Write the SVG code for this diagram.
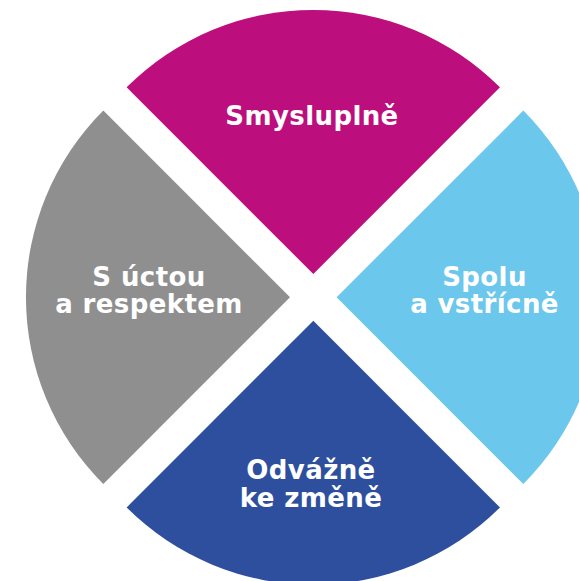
<svg xmlns="http://www.w3.org/2000/svg" width="579" height="581" viewBox="0 0 579 581">
<style>
.lbl{font-family:"DejaVu Sans","Liberation Sans",sans-serif;font-weight:bold;font-size:26px;letter-spacing:0.4px;fill:#ffffff;text-anchor:middle}
</style>
<rect width="579" height="581" fill="#ffffff"/>
<g id="smysluplne">
<path d="M313.3,274 L126.6,87.3 A264,264 0 0 1 500,87.3 Z" fill="#BC0E7C"/>
<text class="lbl" x="312" y="124.5">Smysluplně</text>
</g>
<g id="s-uctou">
<path d="M290,297.3 L103.3,484 A264,264 0 0 1 103.3,110.6 Z" fill="#8F8F8F"/>
<text class="lbl" x="149" y="285.5">S úctou</text>
<text class="lbl" x="149" y="313.3">a respektem</text>
</g>
<g id="spolu">
<path d="M336.6,297.3 L523.3,110.6 A264,264 0 0 1 523.3,484 Z" fill="#6BC7EB"/>
<text class="lbl" x="484.5" y="285.5">Spolu</text>
<text class="lbl" x="484.5" y="313.3">a vstřícně</text>
</g>
<g id="odvazne">
<path d="M313.3,320.7 L500,507.4 A264,264 0 0 1 126.6,507.4 Z" fill="#2E4F9E"/>
<text class="lbl" x="311" y="479.3">Odvážně</text>
<text class="lbl" x="311" y="506.7">ke změně</text>
</g>
<g id="connectors"/>
</svg>
